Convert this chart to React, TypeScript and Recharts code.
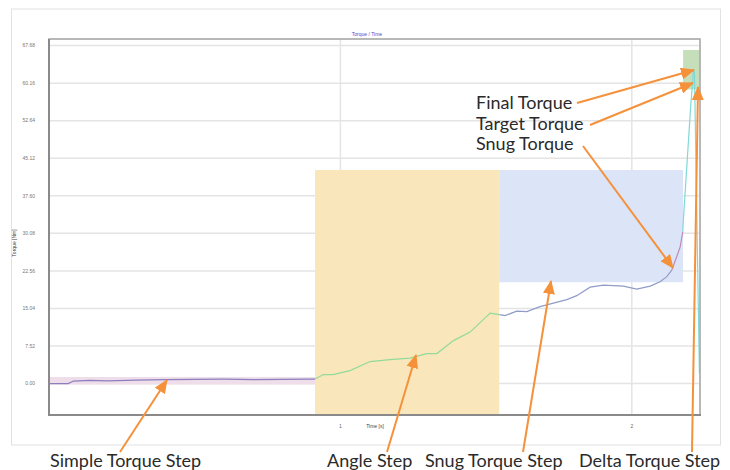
import React from 'react';
import {
  ComposedChart,
  Line,
  XAxis,
  YAxis,
  CartesianGrid,
  ReferenceArea,
} from 'recharts';

// time [s] / torque [Nm], one pair of arrays per step
const simpleTime = [0, 0.066, 0.084, 0.14, 0.2, 0.3, 0.4, 0.5, 0.6, 0.7, 0.8, 0.9, 0.913];
const simpleTorque = [0, 0, 0.5, 0.65, 0.55, 0.7, 0.78, 0.85, 0.88, 0.8, 0.82, 0.88, 0.9];

const angleTime = [0.913, 0.942, 0.975, 1.033, 1.102, 1.17, 1.239, 1.296, 1.331, 1.388, 1.445, 1.514, 1.546];
const angleTorque = [0.9, 1.8, 1.8, 2.6, 4.4, 4.8, 5.1, 6.0, 6.0, 8.6, 10.3, 14.1, 13.8];

const snugTime = [1.546, 1.565, 1.605, 1.64, 1.685, 1.731, 1.777, 1.811, 1.857, 1.903, 1.971, 2.017, 2.063, 2.097, 2.12, 2.137];
const snugTorque = [13.8, 13.6, 14.5, 14.4, 15.4, 16.1, 16.8, 17.6, 19.3, 19.7, 19.5, 18.9, 19.5, 20.4, 21.4, 22.7];

const finalTime = [2.137, 2.154, 2.166, 2.175];
const finalTorque = [22.7, 25.4, 27.4, 30.4];

const deltaTime = [2.175, 2.177, 2.191, 2.202, 2.212, 2.215, 2.232];
const deltaTorque = [30.4, 32.9, 45.5, 55.5, 62.8, 62.3, 2.0];

// step windows: [t1, t2, torque1, torque2]
const simpleWindow = [0, 0.913, -0.2, 1.3];
const angleWindow = [0.913, 1.545, -6.3, 42.75];
const snugWindow = [1.545, 2.176, 20.3, 42.75];
const deltaWindow = [2.176, 2.234, 58.9, 66.8];

const yTicks = [0, 7.52, 15.04, 22.56, 30.08, 37.6, 45.12, 52.64, 60.16, 67.68];
const xTicks = [1, 2];

const zip = (t: number[], v: number[]) => t.map((x, i) => ({ t: x, v: v[i] }));

const ORANGE = '#f5913a';
const LABEL_FONT = 'Lato, "Open Sans", sans-serif';

const Arrow = ({ x1, y1, x2, y2 }) => (
  <line
    x1={x1}
    y1={y1}
    x2={x2}
    y2={y2}
    stroke={ORANGE}
    strokeWidth={2}
    markerEnd="url(#head)"
  />
);

const App = () => {
  const series = [
    { data: zip(simpleTime, simpleTorque), color: '#8b7fbf' },
    { data: zip(angleTime, angleTorque), color: '#93da9b' },
    { data: zip(snugTime, snugTorque), color: '#8f9cc8' },
    { data: zip(finalTime, finalTorque), color: '#c08ab8' },
    { data: zip(deltaTime, deltaTorque), color: '#7fd9d9' },
  ];
  const windows = [
    { w: simpleWindow, fill: '#efdde9' },
    { w: angleWindow, fill: '#f9e7bb' },
    { w: snugWindow, fill: '#dbe5f7' },
    { w: deltaWindow, fill: '#c5dfbb' },
  ];

  return (
    <div style={{ position: 'absolute', left: 0, top: 0, width: 730, height: 470, background: '#fff' }}>
      <ComposedChart
        width={730}
        height={470}
        margin={{ top: 39, right: 30, left: 9, bottom: 35 }}
      >
        {windows.map((r, i) => (
          <ReferenceArea
            key={`win-${i}`}
            x1={r.w[0]}
            x2={r.w[1]}
            y1={r.w[2]}
            y2={r.w[3]}
            fill={r.fill}
            fillOpacity={1}
            stroke="none"
          />
        ))}
        <CartesianGrid stroke="#e4e4e4" strokeWidth={1.5} />
        <XAxis
          type="number"
          dataKey="t"
          domain={[0, 2.234]}
          ticks={xTicks}
          allowDataOverflow
          height={20}
          tickLine={false}
          axisLine={false}
          tickMargin={3}
          tick={{ fontSize: 5, fill: '#666', fontFamily: 'Arial, sans-serif' }}
        />
        <YAxis
          type="number"
          domain={[-6.3, 69]}
          ticks={yTicks}
          allowDataOverflow
          width={40}
          tickLine={false}
          axisLine={false}
          tickMargin={8}
          tickFormatter={(v) => v.toFixed(2)}
          tick={{ fontSize: 5, fill: '#777', fontFamily: 'Arial, sans-serif' }}
        />
        {series.map((s, i) => (
          <Line
            key={`s-${i}`}
            data={s.data}
            dataKey="v"
            type="linear"
            stroke={s.color}
            strokeWidth={1.2}
            dot={false}
            isAnimationActive={false}
          />
        ))}
      </ComposedChart>

      <svg
        width={730}
        height={470}
        style={{ position: 'absolute', left: 0, top: 0, pointerEvents: 'none' }}
      >
        <defs>
          <marker
            id="head"
            markerUnits="userSpaceOnUse"
            markerWidth={14}
            markerHeight={12}
            refX={13}
            refY={6}
            orient="auto"
          >
            <path d="M0,0 L14,6 L0,12 Z" fill={ORANGE} />
          </marker>
        </defs>

        {/* outer frame and plot frame */}
        <rect x={11.5} y={9} width={709} height={436} fill="none" stroke="#e2e2e2" strokeWidth={1} />
        <rect x={49} y={39} width={651} height={376} fill="none" stroke="#a8a8a8" strokeWidth={1.5} />
        <line x1={49} y1={39} x2={49} y2={416} stroke="#8a8a8a" strokeWidth={2} />
        <line x1={48} y1={415} x2={701} y2={415} stroke="#8a8a8a" strokeWidth={2} />

        <text x={367} y={35.5} fontSize={5} fill="#4b4bd0" textAnchor="middle" fontFamily="Arial, sans-serif">
          Torque / Time
        </text>
        <text x={375} y={427.5} fontSize={5} fill="#444" textAnchor="middle" fontFamily="Arial, sans-serif">
          Time [s]
        </text>
        <text
          x={16}
          y={243}
          fontSize={5}
          fill="#444"
          textAnchor="middle"
          fontFamily="Arial, sans-serif"
          transform="rotate(-90 16 243)"
        >
          Torque [Nm]
        </text>

        <Arrow x1={120} y1={452} x2={167} y2={380} />
        <Arrow x1={387} y1={452} x2={416} y2={355} />
        <Arrow x1={523} y1={452} x2={551} y2={281} />
        <Arrow x1={692} y1={452} x2={698} y2={87} />
        <Arrow x1={577} y1={103} x2={694} y2={70} />
        <Arrow x1={590} y1={125} x2={693} y2={83} />
        <Arrow x1={583} y1={146} x2={673} y2={268} />

        <g fontFamily={LABEL_FONT} fontSize={18} fill="#2a2a2a">
          <text x={476} y={109}>Final Torque</text>
          <text x={476} y={130}>Target Torque</text>
          <text x={476} y={150}>Snug Torque</text>
          <text x={50} y={467}>Simple Torque Step</text>
          <text x={327} y={467}>Angle Step</text>
          <text x={425} y={467}>Snug Torque Step</text>
          <text x={579} y={467}>Delta Torque Step</text>
        </g>
      </svg>
    </div>
  );
};

export default App;
